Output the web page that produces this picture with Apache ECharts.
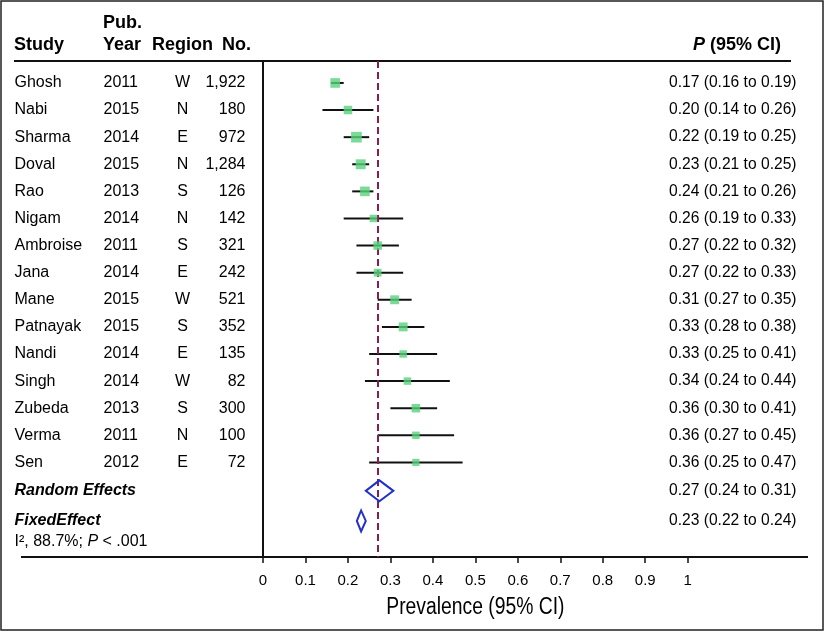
<!DOCTYPE html>
<html><head><meta charset="utf-8">
<script src="https://cdn.jsdelivr.net/npm/echarts@6/dist/echarts.min.js"></script>
<style>html,body{margin:0;padding:0;background:#fff}#c{width:825px;height:632px}</style>
</head><body><div id="c"></div>
<script>
// ---- data ----
const studies = ['Ghosh','Nabi','Sharma','Doval','Rao','Nigam','Ambroise','Jana','Mane','Patnayak','Nandi','Singh','Zubeda','Verma','Sen'];
const years   = [2011,2015,2014,2015,2013,2014,2011,2014,2015,2015,2014,2014,2013,2011,2012];
const regions = ['W','N','E','N','S','N','S','E','W','S','E','W','S','N','E'];
const sampleN = [1922,180,972,1284,126,142,321,242,521,352,135,82,300,100,72];
const est     = [0.17,0.20,0.22,0.23,0.24,0.26,0.27,0.27,0.31,0.33,0.33,0.34,0.36,0.36,0.36];
const lo      = [0.16,0.14,0.19,0.21,0.21,0.19,0.22,0.22,0.27,0.28,0.25,0.24,0.30,0.27,0.25];
const hi      = [0.19,0.26,0.25,0.25,0.26,0.33,0.32,0.33,0.35,0.38,0.41,0.44,0.41,0.45,0.47];
const weightPct = [8.8,6.9,10.8,9.3,8.8,5.3,6.9,5.7,7.5,7.5,5.3,5.3,6.9,5.3,4.9];
const randomEffect = [0.274, 0.242, 0.307]; // est, lo, hi
const fixedEffect  = [0.231, 0.221, 0.242];
const heterogeneity = { i2: '88.7%', p: '.001' };
const xTicks = [0,0.1,0.2,0.3,0.4,0.5,0.6,0.7,0.8,0.9,1];
const axisTitle = 'Prevalence (95% CI)';

// ---- layout ----
const FONT = "'Liberation Sans', Arial, Helvetica, sans-serif";
const TXT = '#000';
const Y_RANDOM = 15.05, Y_FIXED = 16.16, Y_NOTE = 16.93;
const yMin = -0.81, yMax = 17.49;
const fmtN = v => v.toLocaleString('en-US');
const fmtCI = (e,l,h) => e.toFixed(2) + ' (' + l.toFixed(2) + ' to ' + h.toFixed(2) + ')';

function textSeries(items, align, extraLabel) {
  return {
    type: 'scatter', xAxisIndex: 1, yAxisIndex: 1, symbolSize: 1, silent: true,
    itemStyle: { color: 'rgba(0,0,0,0)' },
    data: items.map(it => ({ value: [it.x, it.y], txt: it.text })),
    label: Object.assign({
      show: true, opacity: 1,
      position: align === 'left' ? 'right' : (align === 'right' ? 'left' : 'inside'),
      distance: 0,
      color: TXT, fontSize: 16, fontFamily: FONT,
      formatter: p => p.data.txt
    }, extraLabel || {}),
    labelLayout: { hideOverlap: false }
  };
}

const rowsAt = (x, arr, f) => arr.map((v, i) => ({ x: x, y: i, text: f ? f(v) : String(v) }));

const CI_X = 797;
const ciTexts = studies.map((s, i) => ({ x: CI_X, y: i, text: fmtCI(est[i], lo[i], hi[i]) }));
ciTexts.push({ x: CI_X, y: Y_RANDOM, text: fmtCI(randomEffect[0], randomEffect[1], randomEffect[2]) });
ciTexts.push({ x: CI_X, y: Y_FIXED, text: fmtCI(fixedEffect[0], fixedEffect[1], fixedEffect[2]) });

const HFONT = 'bold 18px ' + FONT;
const chart = echarts.init(document.getElementById('c'), null, { renderer: 'canvas' });
chart.setOption({
  animation: false,
  backgroundColor: '#fff',
  grid: [
    { left: 263, width: 424.7, top: 61, height: 496 },
    { left: 0, width: 825, top: 61, height: 496 }
  ],
  xAxis: [
    { gridIndex: 0, type: 'value', min: 0, max: 1, interval: 0.1,
      axisLine: { show: false, onZero: false },
      axisTick: { show: true, inside: false, length: 6, lineStyle: { color: '#111', width: 1.5 } },
      axisLabel: { fontSize: 15, color: TXT, fontFamily: FONT, margin: 16,
        formatter: v => { const t = xTicks.find(k => Math.abs(k - v) < 1e-9); return t === undefined ? '' : String(t); } },
      splitLine: { show: false } },
    { gridIndex: 1, type: 'value', min: 0, max: 825, show: false }
  ],
  yAxis: [
    { gridIndex: 0, type: 'value', inverse: true, min: yMin, max: yMax,
      axisLine: { show: true, onZero: false, lineStyle: { color: '#111', width: 2 } },
      axisTick: { show: false }, axisLabel: { show: false }, splitLine: { show: false } },
    { gridIndex: 1, type: 'value', inverse: true, min: yMin, max: yMax, show: false }
  ],
  graphic: [
    { type: 'rect', shape: { x: 1, y: 1, width: 822, height: 629 }, style: { fill: 'none', stroke: '#222', lineWidth: 1.5 }, silent: true },
    { type: 'line', shape: { x1: 14, y1: 61, x2: 791, y2: 61 }, style: { stroke: '#111', lineWidth: 2 }, silent: true },
    { type: 'line', shape: { x1: 21, y1: 557, x2: 808, y2: 557 }, style: { stroke: '#111', lineWidth: 2 }, silent: true },
    { type: 'text', x: 14, y: 45, style: { text: 'Study', font: HFONT, fill: TXT, align: 'left', verticalAlign: 'middle' } },
    { type: 'text', x: 103, y: 23, style: { text: 'Pub.', font: HFONT, fill: TXT, align: 'left', verticalAlign: 'middle' } },
    { type: 'text', x: 103, y: 45, style: { text: 'Year', font: HFONT, fill: TXT, align: 'left', verticalAlign: 'middle' } },
    { type: 'text', x: 152, y: 45, style: { text: 'Region', font: HFONT, fill: TXT, align: 'left', verticalAlign: 'middle' } },
    { type: 'text', x: 222, y: 45, style: { text: 'No.', font: HFONT, fill: TXT, align: 'left', verticalAlign: 'middle' } },
    { type: 'text', x: 781, y: 45, style: { text: '{i|P} (95% CI)', font: HFONT, fill: TXT, align: 'right', verticalAlign: 'middle',
        rich: { i: { fontStyle: 'italic', fontWeight: 'bold', fontSize: 18, fontFamily: FONT, fill: TXT } } } },
    { type: 'text', x: 475.4, y: 608, scaleX: 0.84, scaleY: 1,
      style: { text: axisTitle, font: '23px ' + FONT, fill: TXT, align: 'center', verticalAlign: 'middle' } }
  ],
  series: [
    textSeries(rowsAt(14, studies), 'left'),
    textSeries(rowsAt(103, years), 'left'),
    textSeries(rowsAt(182.5, regions), 'center'),
    textSeries(rowsAt(246, sampleN, fmtN), 'right'),
    textSeries(ciTexts, 'right', { fontSize: 15.6 }),
    textSeries([{ x: 14, y: Y_RANDOM, text: 'Random Effects' }, { x: 14, y: Y_FIXED, text: 'FixedEffect' }], 'left',
      { fontWeight: 'bold', fontStyle: 'italic' }),
    textSeries([{ x: 14, y: Y_NOTE, text: 'I\u00B2, ' + heterogeneity.i2 + '; {i|P} < ' + heterogeneity.p }], 'left',
      { rich: { i: { fontStyle: 'italic', fontSize: 16, fontFamily: FONT, color: TXT } } }),
    { type: 'custom', xAxisIndex: 0, yAxisIndex: 0, silent: true, z: 3,
      data: studies.map((s, i) => [lo[i], hi[i], i]),
      encode: { x: [0, 1], y: 2 },
      renderItem: (params, api) => {
        const a = api.coord([api.value(0), api.value(2)]);
        const b = api.coord([api.value(1), api.value(2)]);
        return { type: 'line', shape: { x1: a[0], y1: a[1], x2: b[0], y2: b[1] }, style: { stroke: '#111', lineWidth: 2 } };
      } },
    { type: 'custom', xAxisIndex: 0, yAxisIndex: 0, silent: true, z: 4,
      data: [[randomEffect[1], randomEffect[0], randomEffect[2], Y_RANDOM], [fixedEffect[1], fixedEffect[0], fixedEffect[2], Y_FIXED]],
      encode: { x: [0, 1, 2], y: 3 },
      renderItem: (params, api) => {
        const y = api.value(3);
        const l = api.coord([api.value(0), y]), c = api.coord([api.value(1), y]), r = api.coord([api.value(2), y]);
        const h = 10.5;
        return { type: 'polygon', shape: { points: [[l[0], l[1]], [c[0], c[1] - h], [r[0], r[1]], [c[0], c[1] + h]] },
          style: { fill: 'none', stroke: '#2231c8', lineWidth: 2 } };
      } },
    { type: 'scatter', xAxisIndex: 0, yAxisIndex: 0, silent: true, z: 5,
      symbol: 'rect',
      symbolSize: (v, p) => 3.25 * Math.sqrt(weightPct[p.dataIndex]),
      itemStyle: { color: '#58d27c' },
      data: studies.map((s, i) => [est[i], i]),
      markLine: { silent: true, symbol: 'none', label: { show: false }, z: 4,
        lineStyle: { color: '#8a1c52', type: [7, 4], width: 2 },
        data: [{ xAxis: randomEffect[0] }] } }
  ]
});
</script></body></html>
